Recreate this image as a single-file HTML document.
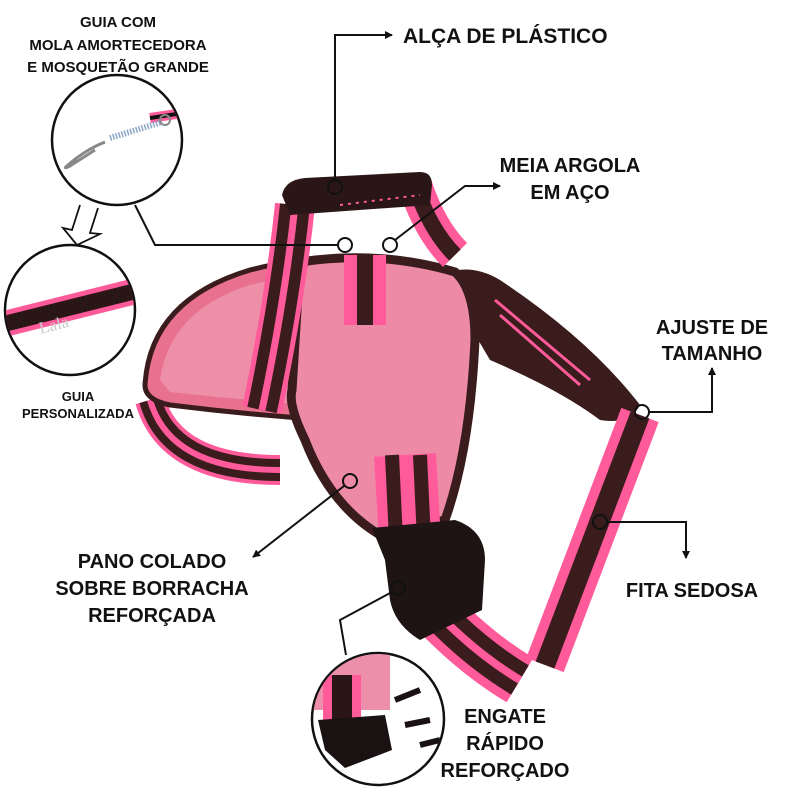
<!DOCTYPE html>
<html><head><meta charset="utf-8"><style>
html,body{margin:0;padding:0;background:#fff;}
svg{display:block}
text{font-family:"Liberation Sans",sans-serif;font-weight:bold;fill:#111;}
</style></head><body>
<svg width="800" height="800" viewBox="0 0 800 800" xmlns="http://www.w3.org/2000/svg">
<defs>
<marker id="ah" markerWidth="8" markerHeight="8" refX="7" refY="4" orient="auto" markerUnits="userSpaceOnUse"><path d="M0,0 L8,4 L0,8 z" fill="#111"/></marker>
<clipPath id="c1"><circle cx="117" cy="140" r="64"/></clipPath>
<clipPath id="c2"><circle cx="70" cy="310" r="64"/></clipPath>
<clipPath id="c3"><circle cx="378" cy="719" r="65"/></clipPath>
</defs>

<!-- left strap loop -->
<path d="M150,400 Q170,470 280,470" fill="none" stroke="#ff5a9a" stroke-width="30"/>
<path d="M150,400 Q170,470 280,470" fill="none" stroke="#3a1c1c" stroke-width="22"/>
<path d="M150,400 Q170,470 280,470" fill="none" stroke="#ff5a9a" stroke-width="6"/>

<!-- left wing -->
<path d="M145,385 Q150,300 250,270 Q310,255 340,262 L330,420 Q250,415 170,405 Q145,400 145,385 Z" fill="#e8718f" stroke="#3a1c1c" stroke-width="5"/>
<path d="M160,380 Q170,310 250,285 Q300,272 330,275 L320,405 Q240,400 170,392 Z" fill="#ee8fa8"/>

<!-- right dark wing -->
<path d="M440,275 Q470,262 500,280 Q590,340 640,405 Q630,425 600,420 Q560,390 490,360 Z" fill="#3a1c1c"/>
<path d="M495,300 L590,380" stroke="#ff5a9a" stroke-width="3"/>
<path d="M500,315 L580,385" stroke="#ff5a9a" stroke-width="3"/>

<!-- chest plate -->
<path d="M300,262 Q380,250 455,272 Q475,290 475,340 Q470,450 445,520 L380,535 Q330,505 305,440 Q288,405 292,390 Z" fill="#ed8aa6" stroke="#3a1c1c" stroke-width="9"/>

<!-- left vertical strap -->
<path d="M295,205 Q285,300 262,410" fill="none" stroke="#ff5a9a" stroke-width="40"/>
<path d="M295,205 Q285,300 262,410" fill="none" stroke="#3a1c1c" stroke-width="30"/>
<path d="M295,205 Q285,300 262,410" fill="none" stroke="#ff5a9a" stroke-width="7"/>
<!-- right handle strap -->
<path d="M415,185 Q430,230 455,255" fill="none" stroke="#ff5a9a" stroke-width="34"/>
<path d="M415,185 Q430,230 455,255" fill="none" stroke="#3a1c1c" stroke-width="16"/>
<!-- short top strap -->
<path d="M365,255 L365,325" stroke="#ff5a9a" stroke-width="42"/>
<path d="M365,255 L365,325" stroke="#3a1c1c" stroke-width="16"/>
<!-- bottom chest strap -->
<path d="M405,455 L410,540" stroke="#ff5a9a" stroke-width="62"/>
<path d="M392,455 L396,540" stroke="#3a1c1c" stroke-width="14"/>
<path d="M420,455 L424,540" stroke="#3a1c1c" stroke-width="14"/>

<!-- right strap long -->
<path d="M640,415 Q600,520 545,665" fill="none" stroke="#ff5a9a" stroke-width="40"/>
<path d="M640,415 Q600,520 545,665" fill="none" stroke="#3a1c1c" stroke-width="20"/>
<!-- lower strap from buckle -->
<path d="M425,600 Q470,650 520,680" fill="none" stroke="#ff5a9a" stroke-width="52"/>
<path d="M425,600 Q470,650 520,680" fill="none" stroke="#3a1c1c" stroke-width="34"/>
<path d="M425,600 Q470,650 520,680" fill="none" stroke="#ff5a9a" stroke-width="8"/>

<!-- buckle -->
<path d="M372,528 L455,520 Q485,530 485,560 L482,610 L420,640 Q395,625 390,600 L385,560 Z" fill="#1e1414"/>

<!-- handle -->
<path d="M282,195 Q285,180 305,178 L420,172 Q432,172 432,185 L430,205 L290,215 Z" fill="#2a1616"/>
<path d="M340,205 L420,195" stroke="#ff5a9a" stroke-width="2" stroke-dasharray="3 5"/>

<!-- circle 1 -->
<circle cx="117" cy="140" r="65" fill="#fff" stroke="#111" stroke-width="2.5"/>
<g clip-path="url(#c1)">
<path d="M150,118 L190,112" stroke="#ff5a9a" stroke-width="10"/>
<path d="M150,118 L190,112" stroke="#111" stroke-width="4"/>
<path d="M110,138 L162,122" stroke="#8aa6c6" stroke-width="6" stroke-dasharray="1.5 1.5"/>
<circle cx="165" cy="120" r="5" fill="none" stroke="#888" stroke-width="2"/>
<path d="M105,142 Q85,150 68,165 Q62,170 70,166 L95,150" fill="none" stroke="#888" stroke-width="3"/>
</g>
<!-- circle 2 -->
<circle cx="70" cy="310" r="65" fill="#fff" stroke="#111" stroke-width="2.5"/>
<g clip-path="url(#c2)">
<path d="M0,325 L140,290" stroke="#ff5a9a" stroke-width="26"/>
<path d="M0,325 L140,290" stroke="#2a1616" stroke-width="16"/>
<text x="38" y="330" transform="rotate(-14 55 322)" style="font-family:'Liberation Serif',serif;font-weight:normal;fill:#ccc;font-size:17px">Lala</text>
</g>
<!-- circle 3 -->
<circle cx="378" cy="719" r="66" fill="#fff" stroke="#111" stroke-width="2.5"/>
<g clip-path="url(#c3)">
<rect x="310" y="650" width="80" height="60" fill="#ec8fab"/>
<rect x="323" y="675" width="38" height="45" fill="#ff5a9a"/>
<rect x="332" y="675" width="20" height="45" fill="#2a1616"/>
<path d="M318,720 L385,715 L392,750 L345,768 L325,750 Z" fill="#1a1212"/>
<path d="M395,700 L420,690 M405,725 L430,720 M420,745 L440,740" stroke="#1a1212" stroke-width="6"/>
</g>

<!-- connectors -->
<g fill="none" stroke="#111" stroke-width="2">
<circle cx="335" cy="187" r="7"/>
<path d="M335,180 L335,35 L392,35" marker-end="url(#ah)"/>
<circle cx="345" cy="245" r="7"/>
<path d="M338,245 L155,245 L135,205"/>
<circle cx="390" cy="245" r="7"/>
<path d="M395,240 L465,186 L500,186" marker-end="url(#ah)"/>
<circle cx="642" cy="412" r="7"/>
<path d="M649,412 L712,412 L712,368" marker-end="url(#ah)"/>
<circle cx="600" cy="522" r="7"/>
<path d="M607,522 L686,522 L686,558" marker-end="url(#ah)"/>
<circle cx="350" cy="481" r="7"/>
<path d="M344,486 L253,557" marker-end="url(#ah)"/>
<circle cx="398" cy="588" r="7"/>
<path d="M392,592 L340,620 L346,655"/>
<path d="M80,205 L72,230 L63,228 L77,245 L100,234 L90,233 L98,208" stroke-width="1.8" fill="#fff"/>
</g>

<!-- labels -->
<text x="403" y="43" font-size="21">ALÇA DE PLÁSTICO</text>
<text x="570" y="172" font-size="20" text-anchor="middle">MEIA ARGOLA</text>
<text x="570" y="199" font-size="20" text-anchor="middle">EM AÇO</text>
<text x="712" y="334" font-size="20" text-anchor="middle">AJUSTE DE</text>
<text x="712" y="360" font-size="20" text-anchor="middle">TAMANHO</text>
<text x="692" y="597" font-size="20" text-anchor="middle">FITA SEDOSA</text>
<text x="152" y="568" font-size="20" text-anchor="middle">PANO COLADO</text>
<text x="152" y="595" font-size="20" text-anchor="middle">SOBRE BORRACHA</text>
<text x="152" y="622" font-size="20" text-anchor="middle">REFORÇADA</text>
<text x="505" y="723" font-size="20" text-anchor="middle">ENGATE</text>
<text x="505" y="750" font-size="20" text-anchor="middle">RÁPIDO</text>
<text x="505" y="777" font-size="20" text-anchor="middle">REFORÇADO</text>
<text x="118" y="27" font-size="15" text-anchor="middle">GUIA COM</text>
<text x="118" y="50" font-size="15" text-anchor="middle">MOLA AMORTECEDORA</text>
<text x="118" y="72" font-size="15" text-anchor="middle">E MOSQUETÃO GRANDE</text>
<text x="78" y="401" font-size="13" text-anchor="middle">GUIA</text>
<text x="78" y="418" font-size="13" text-anchor="middle">PERSONALIZADA</text>
</svg>
</body></html>
